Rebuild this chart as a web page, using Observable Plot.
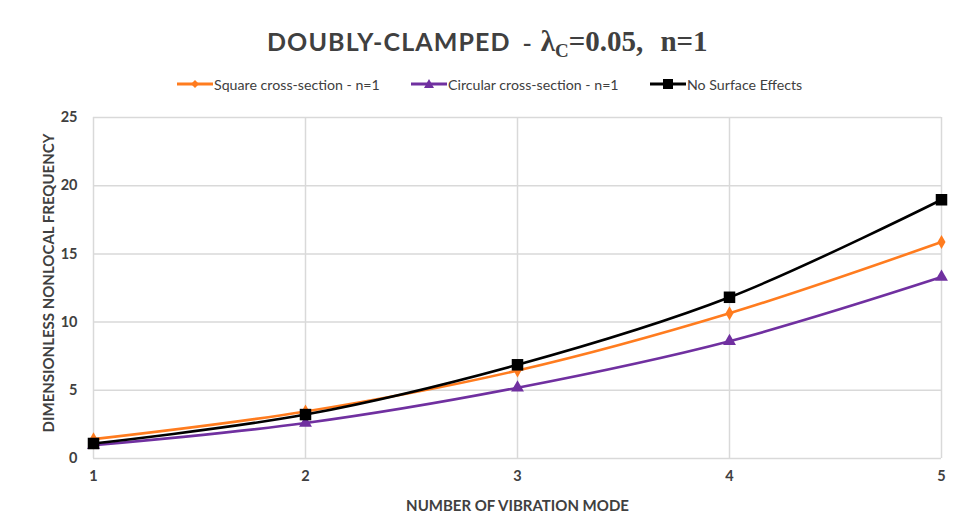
<!DOCTYPE html>
<html>
<head>
<meta charset="utf-8">
<script src="https://cdn.jsdelivr.net/npm/d3@7"></script>
<script src="https://cdn.jsdelivr.net/npm/@observablehq/plot@0.6"></script>
<style>
  html, body { margin: 0; padding: 0; background: #fff; }
  #wrap { width: 960px; height: 530px; position: relative; overflow: hidden; background: #fff; }
  #title { position: absolute; left: 267px; top: 25px; color: #404040; font-size: 25px; font-weight: bold; white-space: nowrap; }
  #title .sans { font-family: Lato, "Open Sans", sans-serif; letter-spacing: 1.1px; }
  #title .serif { font-family: "Liberation Serif", "DejaVu Serif", serif; font-size: 29px; margin-left: 3px; }
  #title sub { font-size: 19px; vertical-align: -6px; }
  #title .gap { display: inline-block; width: 10px; }
  #legend { position: absolute; top: 74px; left: 0; width: 960px; height: 20px; font-family: Lato, "Open Sans", sans-serif; font-size: 14.2px; color: #404040; }
  .item { position: absolute; top: 0; display: flex; align-items: center; white-space: nowrap; }
  .item svg { margin-right: 1px; }
  #chart { position: absolute; left: 0; top: 100px; }
</style>
</head>
<body>
<div id="wrap">
  <div id="title"><span class="sans">DOUBLY-CLAMPED</span>&nbsp; - <span class="serif">λ<sub>C</sub>=0.05,<span class="gap"></span> n=1</span></div>
  <div id="legend"></div>
  <div id="chart"></div>
</div>
<script>
// ---- data ----
const modes = [1, 2, 3, 4, 5];
const squareSection = [1.42, 3.45, 6.45, 10.65, 15.87];
const circularSection = [0.97, 2.6, 5.19, 8.6, 13.3];
const noSurface = [1.1, 3.22, 6.87, 11.82, 18.97];
const seriesNames = ["Square cross-section - n=1", "Circular cross-section - n=1", "No Surface Effects"];
const seriesColors = ["#ff7c1f", "#7030a0", "#000000"];
const seriesSymbols = ["diamond", "triangle", "square"];
const yTicks = [0, 5, 10, 15, 20, 25];

const seriesValues = [squareSection, circularSection, noSurface];
const data = [];
seriesValues.forEach((vals, s) => {
  vals.forEach((v, i) => data.push({series: seriesNames[s], mode: modes[i], value: v}));
});

// ---- legend ----
const legend = document.getElementById("legend");
const legendX = [177, 411, 650];
seriesNames.forEach((name, i) => {
  const it = document.createElement("div");
  it.className = "item";
  it.style.left = legendX[i] + "px";
  const sym = seriesSymbols[i];
  let shape = "";
  if (sym === "diamond") shape = `<path d="M18,6 L22,10 L18,14 L14,10 Z" fill="${seriesColors[i]}"/>`;
  else if (sym === "triangle") shape = `<path d="M18,5 L23,14 L13,14 Z" fill="${seriesColors[i]}"/>`;
  else shape = `<rect x="13" y="5" width="10" height="10" fill="${seriesColors[i]}"/>`;
  it.innerHTML = `<svg width="36" height="20"><line x1="0" x2="36" y1="10" y2="10" stroke="${seriesColors[i]}" stroke-width="3"/>${shape}</svg><span>${name}</span>`;
  legend.appendChild(it);
});

// ---- chart ----
const chart = Plot.plot({
  width: 960,
  height: 430,
  marginLeft: 93,
  marginRight: 19,
  marginTop: 17,
  marginBottom: 72,
  style: {fontFamily: "Lato, 'Open Sans', sans-serif", fontSize: "14.5px", color: "#595959", background: "#fff"},
  x: {domain: [1, 5]},
  y: {domain: [0, 25]},
  color: {domain: seriesNames, range: seriesColors},
  symbol: {domain: seriesNames, range: seriesSymbols},
  marks: [
    Plot.gridX(modes, {stroke: "#d9d9d9", strokeOpacity: 1, strokeWidth: 1.5}),
    Plot.gridY(yTicks, {stroke: "#d9d9d9", strokeOpacity: 1, strokeWidth: 1.5}),
    Plot.axisX({ticks: modes, tickSize: 0, tickPadding: 12, tickFormat: d3.format("d"), fontWeight: "bold", fill: "#404040", label: "NUMBER OF VIBRATION MODE", labelAnchor: "center", labelArrow: "none", labelOffset: 52}),
    Plot.axisY({ticks: yTicks, tickSize: 0, tickPadding: 16, fontWeight: "bold", fill: "#404040", label: "DIMENSIONLESS NONLOCAL FREQUENCY", labelAnchor: "center", labelArrow: "none", labelOffset: 50}),
    Plot.line(data, {x: "mode", y: "value", z: "series", stroke: "series", strokeWidth: 2.6, curve: "catmull-rom"}),
    Plot.dot(data.filter(d => d.series === seriesNames[0]), {x: "mode", y: "value", symbol: "series", fill: "series", r: 4.2}),
    Plot.dot(data.filter(d => d.series === seriesNames[1]), {x: "mode", y: "value", symbol: "series", fill: "series", r: 4.8}),
    Plot.dot(data.filter(d => d.series === seriesNames[2]), {x: "mode", y: "value", symbol: "series", fill: "series", r: 6.5})
  ]
});
document.getElementById("chart").appendChild(chart);
// style axis titles
d3.select(chart).selectAll("[aria-label='x-axis label'] text")
  .attr("font-weight", "bold").attr("fill", "#404040").attr("font-size", "15px");
d3.select(chart).selectAll("[aria-label='y-axis label'] text")
  .attr("font-weight", "bold").attr("fill", "#404040").attr("font-size", "15px")
  .attr("transform", function() { return (this.getAttribute("transform") || "") + " translate(5,0)"; });
</script>
</body>
</html>
